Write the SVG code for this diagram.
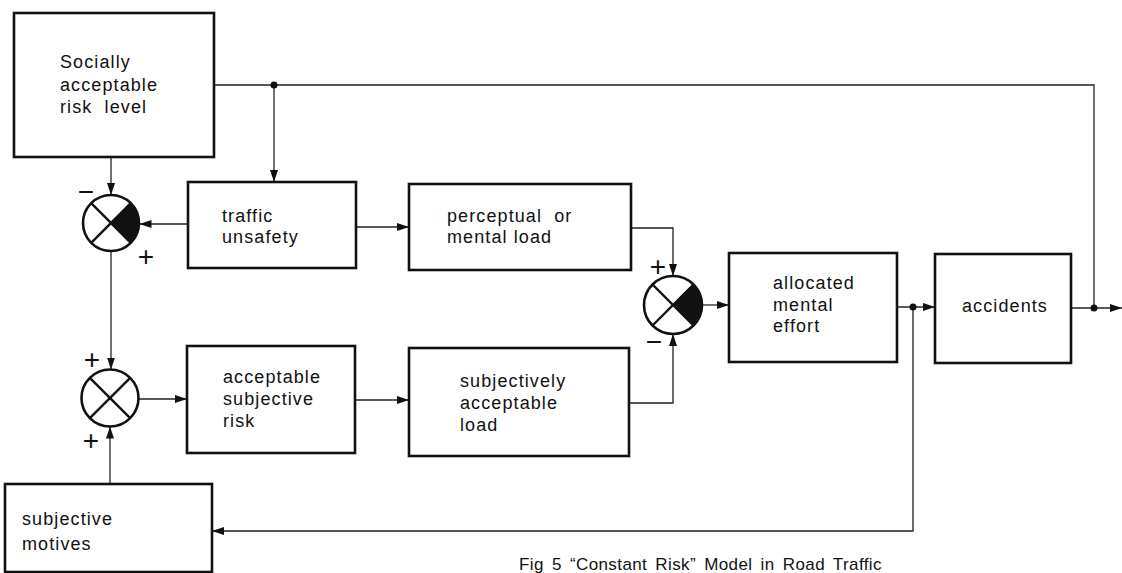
<svg xmlns="http://www.w3.org/2000/svg" width="1122" height="573" viewBox="0 0 1122 573">
<style>
.box{fill:#fff;stroke:#111;stroke-width:2.6}
.lbl{font-family:"Liberation Sans",Arial,sans-serif;font-size:18px;letter-spacing:1.1px;fill:#111}
.sign{font-family:"Liberation Sans",Arial,sans-serif;font-size:28px;fill:#111;text-anchor:middle}
.con{fill:none;stroke:#222;stroke-width:1.3}
.sum{fill:#fff;stroke:#111;stroke-width:2.6}
.diag{stroke:#111;stroke-width:2.4}
.cap{font-family:"Liberation Sans",Arial,sans-serif;font-size:17px;letter-spacing:0.4px;word-spacing:3px;fill:#111}
</style>
<defs>
<marker id="arr" markerUnits="userSpaceOnUse" markerWidth="13" markerHeight="9" refX="12" refY="4" orient="auto">
<path d="M0,0 L12,4 L0,8 Z" fill="#111"/>
</marker>
</defs>
<rect width="1122" height="573" fill="#fff"/>
<g id="connectors">
<path class="con" d="M214,85 H1094 V308"/>
<path class="con" d="M111,157 V195" marker-end="url(#arr)"/>
<path class="con" d="M274,85 V182" marker-end="url(#arr)"/>
<path class="con" d="M188,224 H139.5" marker-end="url(#arr)"/>
<path class="con" d="M111,251 V369.5" marker-end="url(#arr)"/>
<path class="con" d="M138.5,399 H187" marker-end="url(#arr)"/>
<path class="con" d="M110,484 V426.5" marker-end="url(#arr)"/>
<path class="con" d="M356,227 H409" marker-end="url(#arr)"/>
<path class="con" d="M631,228 H673 V276" marker-end="url(#arr)"/>
<path class="con" d="M355,400 H409" marker-end="url(#arr)"/>
<path class="con" d="M629,403 H673 V334" marker-end="url(#arr)"/>
<path class="con" d="M702,305 H729" marker-end="url(#arr)"/>
<path class="con" d="M897,307 H935" marker-end="url(#arr)"/>
<path class="con" d="M913,307 V531 H212" marker-end="url(#arr)"/>
<path class="con" d="M1071,308 H1122" marker-end="url(#arr)"/>
<circle cx="274" cy="85" r="3.5" fill="#111"/>
<circle cx="913" cy="307" r="3.5" fill="#111"/>
<circle cx="1094" cy="308" r="3.5" fill="#111"/>
</g>
<g id="socially">
<rect class="box" x="14" y="13" width="200" height="144"/>
<text class="lbl" x="60" y="68">Socially</text>
<text class="lbl" x="60" y="91">acceptable</text>
<text class="lbl" x="60" y="113" xml:space="preserve">risk  level</text>
</g>
<g id="sum1">
<circle class="sum" cx="111" cy="223" r="28"/>
<path d="M111,223 L130.8,203.2 A28,28 0 0 1 130.8,242.8 Z" fill="#111"/>
<line class="diag" x1="91.2" y1="203.2" x2="130.8" y2="242.8"/>
<line class="diag" x1="91.2" y1="242.8" x2="130.8" y2="203.2"/>
<text class="sign" x="86" y="201">−</text>
<text class="sign" x="146" y="266">+</text>
</g>
<g id="traffic">
<rect class="box" x="188" y="182" width="168" height="86"/>
<text class="lbl" x="222" y="222">traffic</text>
<text class="lbl" x="222" y="243">unsafety</text>
</g>
<g id="perceptual">
<rect class="box" x="409" y="184" width="222" height="86"/>
<text class="lbl" x="447" y="222" xml:space="preserve">perceptual  or</text>
<text class="lbl" x="447" y="243">mental load</text>
</g>
<g id="sum2">
<circle class="sum" cx="110" cy="398" r="28.5"/>
<line class="diag" x1="89.8" y1="377.8" x2="130.2" y2="418.2"/>
<line class="diag" x1="89.8" y1="418.2" x2="130.2" y2="377.8"/>
<text class="sign" x="92" y="369">+</text>
<text class="sign" x="91" y="450">+</text>
</g>
<g id="acceptable-risk">
<rect class="box" x="187" y="346" width="168" height="107"/>
<text class="lbl" x="223" y="383">acceptable</text>
<text class="lbl" x="223" y="405">subjective</text>
<text class="lbl" x="223" y="427">risk</text>
</g>
<g id="subjective-load">
<rect class="box" x="409" y="348" width="220" height="108"/>
<text class="lbl" x="460" y="387">subjectively</text>
<text class="lbl" x="460" y="409">acceptable</text>
<text class="lbl" x="460" y="431">load</text>
</g>
<g id="sum3">
<circle class="sum" cx="673" cy="305" r="29"/>
<path d="M673,305 L693.5,284.5 A29,29 0 0 1 693.5,325.5 Z" fill="#111"/>
<line class="diag" x1="652.5" y1="284.5" x2="693.5" y2="325.5"/>
<line class="diag" x1="652.5" y1="325.5" x2="693.5" y2="284.5"/>
<text class="sign" x="658" y="276">+</text>
<text class="sign" x="654" y="351">−</text>
</g>
<g id="allocated">
<rect class="box" x="729" y="253" width="168" height="109"/>
<text class="lbl" x="773" y="289">allocated</text>
<text class="lbl" x="773" y="311">mental</text>
<text class="lbl" x="773" y="332">effort</text>
</g>
<g id="accidents">
<rect class="box" x="935" y="254" width="136" height="109"/>
<text class="lbl" x="962" y="312">accidents</text>
</g>
<g id="motives">
<rect class="box" x="5" y="484" width="207" height="88"/>
<text class="lbl" x="22" y="525">subjective</text>
<text class="lbl" x="22" y="550">motives</text>
</g>
<text class="cap" x="519" y="570">Fig 5 “Constant Risk” Model in Road Traffic</text>
</svg>
